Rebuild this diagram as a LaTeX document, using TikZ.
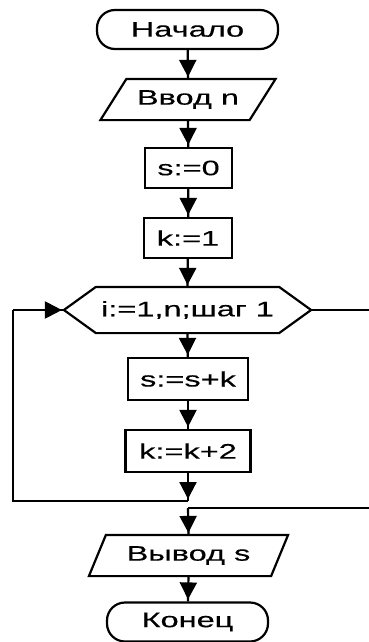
\documentclass[tikz,border=0pt]{standalone}
\usepackage{fontspec}
\setmainfont{Liberation Sans}[FakeStretch=1.55,FakeBold=0.3]
\usetikzlibrary{calc,arrows.meta,decorations.markings}
\begin{document}
\begin{tikzpicture}[x=1pt,y=-1pt,line width=2.2pt,
  txt/.style={font=\fontsize{21}{21}\selectfont, inner sep=0pt},
  term/.style={txt, draw, rounded corners=18pt, minimum height=39pt},
  proc/.style={txt, draw, minimum height=40pt},
  ghost/.style={txt, minimum height=39pt},
  midarrow/.style={postaction={decorate},decoration={markings,
     mark=at position -2pt with {\arrow{Triangle[width=17pt,length=17pt]}}}}
]
\useasboundingbox (0,0) rectangle (368,642);

\node[term, minimum width=181pt] (start) at (187.5,29.5) {Начало};
\node[ghost, minimum width=147pt] (in) at (188,99.5) {Ввод n};
\draw ($(in.north west)+(13,0)$) -- ($(in.north east)+(13,0)$) -- ($(in.south east)+(-13,0)$) -- ($(in.south west)+(-13,0)$) -- cycle;
\node[proc, minimum width=87pt] (s0) at (188.5,168) {s:=0};
\node[proc, minimum width=88pt] (k1) at (188,238) {k:=1};
\node[txt, minimum width=181pt, minimum height=44pt] (hex) at (187.5,310) {i:=1,n;шаг 1};
\draw ($(hex.west)+(-32,0)$) -- (hex.north west) -- (hex.north east) -- ($(hex.east)+(32,0)$) -- (hex.south east) -- (hex.south west) -- cycle;
\coordinate (hw) at ($(hex.west)+(-32,0)$);
\coordinate (he) at ($(hex.east)+(32,0)$);
\node[proc, minimum width=120pt, minimum height=42pt] (sk) at (188,379) {s:=s+k};
\node[proc, minimum width=125pt, minimum height=42pt] (kk) at (188,451) {k:=k+2};
\node[ghost, minimum width=180pt] (out) at (188.5,555.5) {Вывод s};
\draw ($(out.north west)+(8.5,0)$) -- ($(out.north east)+(8.5,0)$) -- ($(out.south east)+(-8.5,0)$) -- ($(out.south west)+(-8.5,0)$) -- cycle;
\node[term, minimum width=161pt] (end) at (187.5,622) {Конец};

\coordinate (c1) at (188,501);
\coordinate (c2) at (13,501);
\coordinate (c3) at (13,310);
\coordinate (r1) at (380,310);
\coordinate (r2) at (380,508);
\coordinate (m) at (188,508);

\draw[midarrow] (start) -- (in.north);
\draw[midarrow] (in.south) -- (s0);
\draw[midarrow] (s0) -- (k1);
\draw[midarrow] (k1) -- (hex.north);
\draw[midarrow] (hex.south) -- (sk);
\draw[midarrow] (sk) -- (kk);
\draw[midarrow] (kk) -- (c1);
\draw (c1) -- (c2) -- (c3);
\draw[midarrow] (c3) -- (hw);
\draw (he) -- (r1) -- (r2) -- (m);
\draw[midarrow] (m) -- (out.north);
\draw[midarrow] (out.south) -- (end);
\end{tikzpicture}
\end{document}
